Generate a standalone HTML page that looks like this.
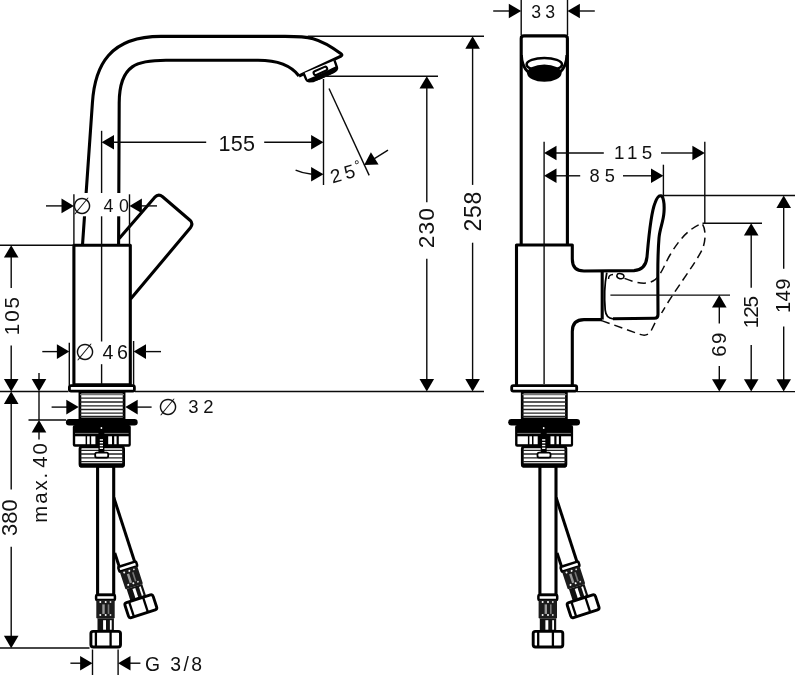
<!DOCTYPE html>
<html lang="en">
<head>
<meta charset="utf-8">
<title>Dimensional drawing</title>
<style>
html,body{margin:0;padding:0;background:#fff;}
body{width:795px;height:675px;overflow:hidden;}
svg{display:block;}
.k *{fill:none;stroke:#000;stroke-width:3.1;stroke-linejoin:round;stroke-linecap:butt;}
.t{fill:none;stroke:#0a0a0a;stroke-width:1.4;}
.d{fill:none;stroke:#0a0a0a;stroke-width:1.5;stroke-dasharray:8.5 5;}
.ah{fill:#000;stroke:none;}
.x{opacity:.999;}
.x text{font-family:"Liberation Sans",sans-serif;fill:#111;}
</style>
</head>
<body>
<svg width="795" height="675" viewBox="0 0 795 675">
<rect width="795" height="675" fill="#fff"/>
<defs>
<g id="hose">
  <!-- local origin: centre of sleeve top -->
  <rect x="-9.4" y="0.5" width="18.8" height="5" rx="1" fill="#fff" stroke="#000" stroke-width="2.5"/>
  <rect x="-9.2" y="5.5" width="18.4" height="18.6" rx="1.2" fill="#1c1c1c"/>
  <rect x="-3.2" y="10" width="2.4" height="9.5" fill="#9a9a9a"/>
  <rect x="2.2" y="10" width="1.6" height="9.5" fill="#777"/>
  <circle cx="-5.2" cy="7.6" r="1" fill="#fff"/><circle cx="0.2" cy="7.6" r="1" fill="#fff"/><circle cx="5" cy="7.6" r="0.9" fill="#ddd"/>
  <circle cx="-5.2" cy="20.6" r="1" fill="#fff"/><circle cx="0.2" cy="20.6" r="1" fill="#fff"/><circle cx="5" cy="20.6" r="0.9" fill="#ddd"/>
  <rect x="-8" y="24" width="16.4" height="12.5" fill="#111"/>
  <rect x="-2.4" y="25.8" width="2.9" height="9.5" fill="#fff"/>
  <rect x="4.4" y="25.8" width="1.8" height="9.5" fill="#fff"/>
  <rect x="-14.6" y="37" width="29.6" height="15.6" rx="2.2" fill="#fff" stroke="#000" stroke-width="2.9"/>
  <line x1="-9.6" y1="37" x2="-9.6" y2="52.6" stroke="#000" stroke-width="2.3"/>
  <line x1="5.1" y1="37" x2="5.1" y2="52.6" stroke="#000" stroke-width="2.3"/>
</g>
<g id="lower">
  <!-- flange -->
  <rect x="69.4" y="385.6" width="65" height="5.6" rx="1.6" fill="#fff" stroke="#000" stroke-width="2.8"/>
  <!-- threaded shank -->
  <rect x="79.9" y="392.2" width="44.2" height="26.6" fill="#fff" stroke="#000" stroke-width="2.7"/>
  <g stroke="#222" stroke-width="1.3">
   <line x1="80" x2="124" y1="394.6" y2="394.6" stroke="#777"/>
   <line x1="80" x2="124" y1="398.2" y2="398.2"/>
   <line x1="80" x2="124" y1="402" y2="402"/>
   <line x1="80" x2="124" y1="405.8" y2="405.8"/>
   <line x1="80" x2="124" y1="409.5" y2="409.5"/>
   <line x1="80" x2="124" y1="413.2" y2="413.2"/>
   <line x1="80" x2="124" y1="416.4" y2="416.4"/>
  </g>
  <!-- angled hose (behind) -->
  <g transform="translate(126.8,563.7) rotate(-18)">
    <line x1="-8.1" y1="-14" x2="-8.1" y2="0" stroke="#000" stroke-width="3"/>
    <line x1="8.1" y1="-67" x2="8.1" y2="0" stroke="#000" stroke-width="3"/>
    <use href="#hose"/>
  </g>
  <!-- straight pipe -->
  <rect x="97.6" y="466" width="16.1" height="129" fill="#fff" stroke="#000" stroke-width="3.1"/>
  <use href="#hose" transform="translate(105.5,594.4)"/>
  <!-- washer -->
  <rect x="65.9" y="419" width="71.8" height="6.4" rx="3.2" fill="#000"/>
  <!-- nut -->
  <rect x="72.8" y="425" width="58" height="21.8" rx="2" fill="#000"/>
  <circle cx="101.4" cy="428" r="0.9" fill="#fff"/>
  <line x1="75" x2="128.6" y1="433.4" y2="433.4" stroke="#aaa" stroke-width="0.7"/>
  <g fill="#fff">
    <rect x="75.2" y="436.3" width="10.4" height="7.9"/>
    <rect x="87.1" y="436.3" width="2.6" height="7.9"/>
    <rect x="91.2" y="436.3" width="4.2" height="7.9"/>
    <rect x="108.2" y="436.3" width="3.8" height="7.9"/>
    <rect x="114.2" y="436.3" width="2.4" height="7.9"/>
    <rect x="118.8" y="436.3" width="9.8" height="7.9"/>
  </g>
  <!-- lower thread -->
  <rect x="80" y="446.8" width="43.6" height="19.4" rx="2" fill="#fff" stroke="#000" stroke-width="2.8"/>
  <g stroke="#222" stroke-width="1.3">
   <line x1="80.5" x2="123.5" y1="450.3" y2="450.3"/>
   <line x1="80.5" x2="123.5" y1="454" y2="454"/>
   <line x1="80.5" x2="123.5" y1="457.8" y2="457.8"/>
   <line x1="80.5" x2="123.5" y1="461.6" y2="461.6"/>
  </g>
  <rect x="79" y="463.2" width="45.6" height="4.2" rx="2" fill="#000"/>
  <!-- centre screw -->
  <rect x="98.4" y="432" width="6" height="21" fill="#000"/>
  <g fill="#fff">
    <rect x="99.8" y="439.2" width="3.2" height="1.4"/>
    <rect x="99.8" y="442" width="3.2" height="1.4"/>
    <rect x="99.8" y="444.8" width="3.2" height="1.4"/>
    <rect x="99.8" y="447.6" width="3.2" height="1.4"/>
  </g>
  <rect x="95.2" y="452.6" width="13" height="5" rx="1.6" fill="#fff" stroke="#000" stroke-width="1.8"/>
</g>
</defs>
<g class="k">
<path d="M82.5 245 L92.4 103 C94.8 65 110 36.4 161 36.4 L285 36.4 C308 36.4 318.2 36.8 341 53.8 Q342.8 55.2 341 56.1 L299 76"/>
<path d="M118.6 245 L119.2 103 C119.3 63.6 138.4 60.3 166 60.3 L258 60.3 C274 60.3 290.2 64.3 299 76"/>
<path d="M119.2 238.4 L154.6 197.4 Q158.4 193.4 162.6 196.8 L190 220.2 Q193.6 223.6 190.4 227.8 L130.6 299"/>
</g>
<rect x="75" y="193" width="53.6" height="23.3" fill="#fff"/>
<g class="k">
<rect x="73.9" y="245.3" width="56.4" height="139.5"/>
</g>
<path d="M303.6 73.2 L306.3 79.6 Q307 81.3 309 81.3 L313.5 81 L333.4 72.2 Q337.8 70 336.9 67.2 L334.5 60.4" fill="#fff" stroke="#000" stroke-width="2.4" stroke-linejoin="round"/>
<polygon points="307.5,79.2 312.9,77.1 320.1,74.1 325.7,71.6 331.2,68.6 336,66.3 337.3,68 335.5,71.6 333.4,72.8 326.8,76.6 320.1,79.4 313.5,81.6 308.5,81.7" fill="#000"/>
<rect x="-7.2" y="-2" width="14.4" height="4" rx="1.8" transform="translate(320.4,70.9) rotate(-24.3)" fill="#fff" stroke="#000" stroke-width="2.1"/>
<use href="#lower"/>
<use href="#lower" transform="translate(442.3,0)"/>
<g class="k">
<path d="M521.2 245 L521.2 38.5 Q521.2 35.9 524 35.9 L564.6 35.9 Q567.4 35.9 567.4 38.5 L567.4 245"/>
<path d="M516.5 385 L516.5 245 L572.3 245 L572.3 259 Q572.3 271 584 271 L634 270.6 Q645.6 270 647 257 C648.5 240 650.5 214 655 203 Q657.6 196 660.2 195.8 C663.4 195.6 664.6 203 664 212 C663.4 222 659.8 228 659 238 C658 250 657.8 262 657.8 275 L658 314.5 Q658 318.3 654.5 318.3 L613 318.8"/>
<path d="M606.8 272.6 C604.6 284 604.3 300 605.2 310 Q606 318.4 613 318.8" style="stroke-width:1.8"/>
<path d="M572.3 385 L572.3 331.5 Q572.3 319.6 584 319.6 L602 319.6"/>
<line x1="602.2" y1="270.4" x2="602.2" y2="319.6" stroke-width="2.6"/>
</g>
<path d="M521.4 55 C521.6 62.5 523 67.5 528.5 72.5 M566.9 55 C566.7 62.5 565.3 67.5 559.8 72.5" fill="none" stroke="#000" stroke-width="2.9"/>
<ellipse cx="544.3" cy="64.4" rx="17.7" ry="6.4" fill="#fff" stroke="#000" stroke-width="2.5"/>
<ellipse cx="544.3" cy="73.2" rx="17.2" ry="8.6" fill="#000"/>
<ellipse cx="620.4" cy="276.2" rx="3.6" ry="2.5" fill="#fff" stroke="#000" stroke-width="1.5" transform="rotate(12 620.4 276.2)"/>
<path class="d" d="M608.6 279 Q608.4 274.6 613 274.4 M624.5 278.4 C636 283 646 285 653 281 C661 276.5 664 265 670 255 C680 238 690 228 702 223.4 C706 229 706 240 702.5 249 C694 266 676 288 661.6 313"/>
<path class="d" d="M601.6 320.6 L640 334.4 Q647.4 337 651 331 L657.4 318"/>
<g>
<line class="t" x1="307.8" y1="36.3" x2="484" y2="36.3"/>
<line class="t" x1="324" y1="76.2" x2="438" y2="76.2"/>
<line class="t" x1="323.5" y1="79" x2="323.5" y2="185"/>
<line class="t" x1="329" y1="88.5" x2="369.2" y2="175.4"/>
<line class="t" x1="101.6" y1="130.8" x2="101.6" y2="193"/>
<line class="t" x1="101.6" y1="216.3" x2="101.6" y2="341.5"/>
<line class="t" x1="101.6" y1="364.2" x2="101.6" y2="384"/>
<polygon class="ah" points="0,0 -12.4,-7.3 -12.4,7.3" transform="translate(101.6,142.2) rotate(180)"/>
<line class="t" x1="113" y1="142.2" x2="206.2" y2="142.2"/>
<line class="t" x1="264.2" y1="142.2" x2="312" y2="142.2"/>
<polygon class="ah" points="0,0 -12.4,-7.3 -12.4,7.3" transform="translate(323.5,142.2) rotate(0)"/>
<polygon class="ah" points="0,0 -12.4,-7.3 -12.4,7.3" transform="translate(323.5,174.2) rotate(0)"/>
<path class="t" d="M295.6 170.2 Q303 173.6 312 174.2"/>
<polygon class="ah" points="0,0 -12.4,-7.3 -12.4,7.3" transform="translate(364.2,164.9) rotate(148.2)"/>
<line class="t" x1="388" y1="150.1" x2="374" y2="158.8"/>
<line class="t" x1="73.9" y1="194.3" x2="73.9" y2="245"/>
<line class="t" x1="129.5" y1="194.3" x2="129.5" y2="245"/>
<line class="t" x1="46" y1="205.9" x2="62" y2="205.9"/>
<polygon class="ah" points="0,0 -12.4,-7.3 -12.4,7.3" transform="translate(73.9,205.9) rotate(0)"/>
<polygon class="ah" points="0,0 -12.4,-7.3 -12.4,7.3" transform="translate(129.5,205.9) rotate(180)"/>
<line class="t" x1="141" y1="205.9" x2="157" y2="205.9"/>
<line class="t" x1="0" y1="245.2" x2="73.9" y2="245.2"/>
<polygon class="ah" points="0,0 -12.4,-7.3 -12.4,7.3" transform="translate(11.2,245.2) rotate(-90)"/>
<line class="t" x1="11.2" y1="257" x2="11.2" y2="288.1"/>
<line class="t" x1="11.2" y1="345.5" x2="11.2" y2="380"/>
<polygon class="ah" points="0,0 -12.4,-7.3 -12.4,7.3" transform="translate(11.2,391.5) rotate(90)"/>
<polygon class="ah" points="0,0 -12.4,-7.3 -12.4,7.3" transform="translate(11.2,391.5) rotate(-90)"/>
<line class="t" x1="11.2" y1="403" x2="11.2" y2="489.6"/>
<line class="t" x1="11.2" y1="546.7" x2="11.2" y2="637"/>
<polygon class="ah" points="0,0 -12.4,-7.3 -12.4,7.3" transform="translate(11.2,648.2) rotate(90)"/>
<line class="t" x1="0" y1="648" x2="89.5" y2="648"/>
<line class="t" x1="39" y1="373" x2="39" y2="380"/>
<polygon class="ah" points="0,0 -12.4,-7.3 -12.4,7.3" transform="translate(39,391.5) rotate(90)"/>
<line class="t" x1="39" y1="391.5" x2="39" y2="420"/>
<polygon class="ah" points="0,0 -12.4,-7.3 -12.4,7.3" transform="translate(39,420) rotate(-90)"/>
<line class="t" x1="39" y1="431" x2="39" y2="439.6"/>
<line class="t" x1="28.5" y1="420" x2="66" y2="420"/>
<line class="t" x1="69.3" y1="342.8" x2="69.3" y2="385"/>
<line class="t" x1="133.6" y1="341" x2="133.6" y2="385"/>
<line class="t" x1="42.3" y1="351.6" x2="58" y2="351.6"/>
<polygon class="ah" points="0,0 -12.4,-7.3 -12.4,7.3" transform="translate(69.3,351.6) rotate(0)"/>
<polygon class="ah" points="0,0 -12.4,-7.3 -12.4,7.3" transform="translate(133.6,351.6) rotate(180)"/>
<line class="t" x1="145" y1="351.6" x2="161" y2="351.6"/>
<line class="t" x1="51.6" y1="407.1" x2="67" y2="407.1"/>
<polygon class="ah" points="0,0 -12.4,-7.3 -12.4,7.3" transform="translate(78.7,407.1) rotate(0)"/>
<polygon class="ah" points="0,0 -12.4,-7.3 -12.4,7.3" transform="translate(125.3,407.1) rotate(180)"/>
<line class="t" x1="137" y1="407.1" x2="151.6" y2="407.1"/>
<line class="t" x1="0" y1="391.5" x2="68.5" y2="391.5"/>
<line class="t" x1="135" y1="391.5" x2="484" y2="391.5"/>
<polygon class="ah" points="0,0 -12.4,-7.3 -12.4,7.3" transform="translate(426.8,76.2) rotate(-90)"/>
<line class="t" x1="426.8" y1="88" x2="426.8" y2="202.2"/>
<line class="t" x1="426.8" y1="258.8" x2="426.8" y2="380"/>
<polygon class="ah" points="0,0 -12.4,-7.3 -12.4,7.3" transform="translate(426.8,391.5) rotate(90)"/>
<polygon class="ah" points="0,0 -12.4,-7.3 -12.4,7.3" transform="translate(472.6,36.3) rotate(-90)"/>
<line class="t" x1="472.6" y1="48" x2="472.6" y2="184.9"/>
<line class="t" x1="472.6" y1="242.7" x2="472.6" y2="380"/>
<polygon class="ah" points="0,0 -12.4,-7.3 -12.4,7.3" transform="translate(472.6,391.5) rotate(90)"/>
<line class="t" x1="92.5" y1="649.5" x2="92.5" y2="675"/>
<line class="t" x1="118.1" y1="649.5" x2="118.1" y2="675"/>
<line class="t" x1="70.4" y1="663.2" x2="81" y2="663.2"/>
<polygon class="ah" points="0,0 -12.4,-7.3 -12.4,7.3" transform="translate(92.5,663.2) rotate(0)"/>
<polygon class="ah" points="0,0 -12.4,-7.3 -12.4,7.3" transform="translate(118.1,663.2) rotate(180)"/>
<line class="t" x1="130" y1="663.2" x2="140.4" y2="663.2"/>
<line class="t" x1="521.2" y1="0" x2="521.2" y2="35"/>
<line class="t" x1="567.5" y1="0" x2="567.5" y2="35"/>
<line class="t" x1="493.2" y1="11" x2="510" y2="11"/>
<polygon class="ah" points="0,0 -12.4,-7.3 -12.4,7.3" transform="translate(521.2,11) rotate(0)"/>
<polygon class="ah" points="0,0 -12.4,-7.3 -12.4,7.3" transform="translate(567.5,11) rotate(180)"/>
<line class="t" x1="579" y1="11" x2="594.8" y2="11"/>
<line class="t" x1="544.1" y1="141.7" x2="544.1" y2="384"/>
<polygon class="ah" points="0,0 -12.4,-7.3 -12.4,7.3" transform="translate(544.1,153) rotate(180)"/>
<line class="t" x1="556" y1="153" x2="603.8" y2="153"/>
<line class="t" x1="661" y1="153" x2="693" y2="153"/>
<polygon class="ah" points="0,0 -12.4,-7.3 -12.4,7.3" transform="translate(704.8,153) rotate(0)"/>
<line class="t" x1="704.8" y1="141.7" x2="704.8" y2="223.2"/>
<polygon class="ah" points="0,0 -12.4,-7.3 -12.4,7.3" transform="translate(544.1,175.8) rotate(180)"/>
<line class="t" x1="556" y1="175.8" x2="580.2" y2="175.8"/>
<line class="t" x1="623" y1="175.8" x2="652" y2="175.8"/>
<polygon class="ah" points="0,0 -12.4,-7.3 -12.4,7.3" transform="translate(663.4,175.8) rotate(0)"/>
<line class="t" x1="663.4" y1="164.7" x2="663.4" y2="200"/>
<line class="t" x1="661" y1="195.5" x2="795" y2="195.5"/>
<line class="t" x1="702.5" y1="223.2" x2="762" y2="223.2"/>
<line class="t" x1="610.4" y1="295.1" x2="730" y2="295.1"/>
<line class="t" x1="577" y1="391.6" x2="795" y2="391.6"/>
<polygon class="ah" points="0,0 -12.4,-7.3 -12.4,7.3" transform="translate(783.7,195.5) rotate(-90)"/>
<line class="t" x1="783.7" y1="207" x2="783.7" y2="268.8"/>
<line class="t" x1="783.7" y1="326.6" x2="783.7" y2="380"/>
<polygon class="ah" points="0,0 -12.4,-7.3 -12.4,7.3" transform="translate(783.7,391.6) rotate(90)"/>
<polygon class="ah" points="0,0 -12.4,-7.3 -12.4,7.3" transform="translate(751.2,223.2) rotate(-90)"/>
<line class="t" x1="751.2" y1="235" x2="751.2" y2="287.8"/>
<line class="t" x1="751.2" y1="345" x2="751.2" y2="380"/>
<polygon class="ah" points="0,0 -12.4,-7.3 -12.4,7.3" transform="translate(751.2,391.6) rotate(90)"/>
<polygon class="ah" points="0,0 -12.4,-7.3 -12.4,7.3" transform="translate(719.3,295.1) rotate(-90)"/>
<line class="t" x1="719.3" y1="307" x2="719.3" y2="323.6"/>
<line class="t" x1="719.3" y1="366" x2="719.3" y2="380"/>
<polygon class="ah" points="0,0 -12.4,-7.3 -12.4,7.3" transform="translate(719.3,391.6) rotate(90)"/>
</g>
<g class="x"><text x="218.60" y="150.80" font-size="21.57" letter-spacing="0.20">155</text>
<text x="103.55" y="212.20" font-size="17.84" letter-spacing="5.56">40</text>
<text x="102.55" y="358.75" font-size="19.68" letter-spacing="3.40">46</text>
<text x="188.15" y="413.40" font-size="18.47" letter-spacing="4.92">32</text>
<text x="144.95" y="670.75" font-size="19.37" letter-spacing="2.43">G 3/8</text>
<text x="531.20" y="17.60" font-size="17.67" letter-spacing="4.24">33</text>
<text x="613.95" y="159.40" font-size="18.81" letter-spacing="4.12">115</text>
<text x="589.50" y="181.95" font-size="18.24" letter-spacing="5.12">85</text>
<text transform="translate(18.75,335.30) rotate(-90)" font-size="20.62" letter-spacing="2.00">105</text>
<text transform="translate(16.60,536.05) rotate(-90)" font-size="21.78" letter-spacing="0.22">380</text>
<text transform="translate(46.60,522.70) rotate(-90)" font-size="20.28" letter-spacing="1.99" word-spacing="-4.5">max. 40</text>
<text transform="translate(434.25,248.30) rotate(-90)" font-size="22.83" letter-spacing="1.06">230</text>
<text transform="translate(481.10,231.45) rotate(-90)" font-size="23.00" letter-spacing="0.74">258</text>
<text transform="translate(726.45,356.65) rotate(-90)" font-size="20.47" letter-spacing="1.28">69</text>
<text transform="translate(758.25,328.20) rotate(-90)" font-size="20.86" letter-spacing="-1.26">125</text>
<text transform="translate(789.70,313.10) rotate(-90)" font-size="20.30" letter-spacing="0.38">149</text>
<text transform="translate(332.6,183.4) rotate(-16)" font-size="19" letter-spacing="3.6">25<tspan font-size="13.5" dy="-6.2" dx="-2">°</tspan></text>
<text x="71.9" y="214.2" font-size="23" font-family="DejaVu Sans, sans-serif">∅</text>
<text x="74.5" y="359.7" font-size="23" font-family="DejaVu Sans, sans-serif">∅</text>
<text x="157.5" y="414.8" font-size="23" font-family="DejaVu Sans, sans-serif">∅</text></g>
</svg>
</body>
</html>
